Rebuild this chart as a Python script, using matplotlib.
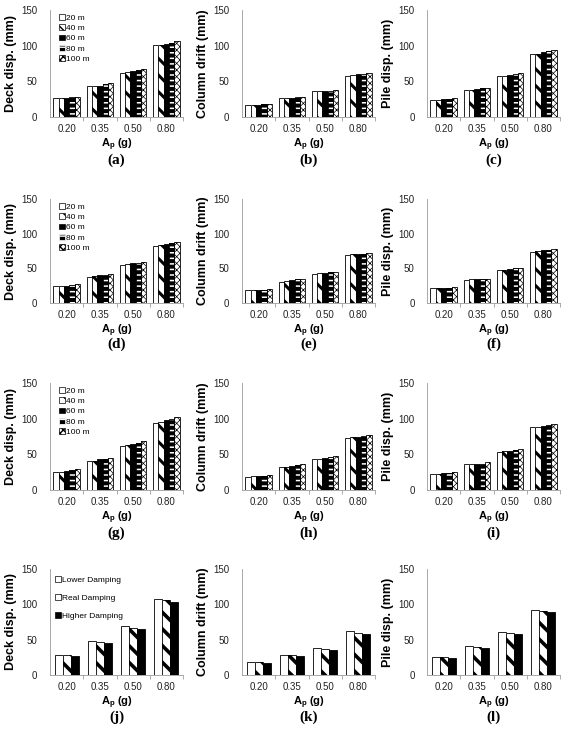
import numpy as np
import matplotlib
matplotlib.use("Agg")
import matplotlib.pyplot as plt
from matplotlib.patches import Patch

plt.rcParams['font.family'] = ['Liberation Sans', 'DejaVu Sans']
plt.rcParams['mathtext.fontset'] = 'custom'
plt.rcParams['mathtext.bf'] = 'Liberation Sans:bold'
plt.rcParams['mathtext.rm'] = 'Liberation Sans'

# ===== data =====
pga = ['0.20', '0.35', '0.50', '0.80']
lengths = ['20 m', '40 m', '60 m', '80 m', '100 m']
damping = ['Lower Damping', 'Real Damping', 'Higher Damping']

# rows = PGA, columns = series
deck_a = [[27, 27, 27, 28, 28], [43, 44, 44, 46, 47], [62, 63, 64, 66, 67], [101, 101, 102, 104, 106]]
col_b = [[17, 17, 17, 18, 18], [27, 27, 27, 28, 28], [36, 36, 37, 37, 38], [58, 59, 60, 60, 61]]
pile_c = [[24, 24, 25, 25, 26], [38, 38, 39, 40, 41], [58, 58, 59, 60, 61], [89, 89, 91, 92, 94]]

deck_d = [[24, 24, 25, 26, 27], [38, 39, 40, 41, 42], [55, 56, 57, 58, 59], [82, 83, 85, 87, 88]]
col_e = [[19, 19, 19, 19, 20], [31, 32, 33, 34, 35], [42, 43, 43, 44, 45], [69, 70, 70, 71, 72]]
pile_f = [[21, 22, 22, 22, 23], [33, 34, 34, 34, 35], [48, 48, 49, 50, 51], [74, 75, 76, 77, 78]]

deck_g = [[25, 25, 27, 28, 29], [41, 41, 43, 44, 45], [61, 63, 64, 66, 68], [94, 96, 98, 100, 102]]
col_h = [[18, 19, 19, 20, 21], [32, 32, 34, 35, 36], [43, 44, 45, 46, 48], [73, 74, 75, 76, 77]]
pile_i = [[23, 23, 24, 24, 25], [36, 36, 37, 37, 39], [53, 54, 55, 56, 57], [88, 89, 90, 91, 92]]

deck_j = [[29, 28, 27], [48, 47, 45], [69, 67, 65], [108, 106, 103]]
col_k = [[19, 18, 17], [29, 28, 27], [38, 37, 36], [62, 60, 58]]
pile_l = [[26, 25, 24], [41, 40, 38], [61, 59, 58], [92, 91, 89]]

# ===== styles =====
# (face, hatch, hatch colour, hatch lw)
len_styles = [
    ('white', None, 'black', 1.0),
    ('white', '\\\\', 'black', 2.2),
    ('black', None, 'black', 1.0),
    ('black', '---', 'white', 1.1),
    ('white', 'xxxxx', 'black', 0.5),
]
damp_styles = [
    ('white', None, 'black', 1.0),
    ('white', '\\\\', 'black', 2.6),
    ('black', None, 'black', 1.0),
]

W, H = 565, 730
fig = plt.figure(figsize=(W / 100, H / 100), dpi=100)

col_left = [50, 242, 427]
axw = 133
rows_px = [(10, 117), (199, 303), (383, 490), (569, 675)]
ylabels = ['Deck disp. (mm)', 'Column drift (mm)', 'Pile disp. (mm)']
letters = 'abcdefghijkl'

panels = [deck_a, col_b, pile_c, deck_d, col_e, pile_f,
          deck_g, col_h, pile_i, deck_j, col_k, pile_l]


def set_hlw(p, lw):
    if hasattr(p, 'set_hatch_linewidth'):
        p.set_hatch_linewidth(lw)


def draw_bar(ax, x, h, w, st):
    face, hatch, hcol, hlw = st
    with plt.rc_context({'hatch.linewidth': hlw}):
        b = ax.bar(x, h, w, color=face, edgecolor=hcol if hatch else 'black',
                   hatch=hatch, linewidth=0.0 if hatch else 0.6, zorder=2)
    for p in b:
        set_hlw(p, hlw)
    if hatch:
        ax.bar(x, h, w, fill=False, edgecolor='black', linewidth=0.6, zorder=3)


def legend_patch(st, lab):
    face, hatch, hcol, hlw = st
    lw = min(hlw, 1.0)
    with plt.rc_context({'hatch.linewidth': lw}):
        p = Patch(facecolor=face, edgecolor='black' if face == 'white' else hcol,
                  hatch=hatch, linewidth=0.5, label=lab)
    set_hlw(p, lw)
    return p


for k, data in enumerate(panels):
    r, c = divmod(k, 3)
    top, bot = rows_px[r]
    ax = fig.add_axes([col_left[c] / W, 1 - bot / H, axw / W, (bot - top) / H])
    vals = np.array(data, dtype=float).T
    nser = vals.shape[0]
    styles = len_styles if nser == 5 else damp_styles
    bw = 0.16 if nser == 5 else 0.24
    x = np.arange(len(pga))
    for s in range(nser):
        xs = x + (s - (nser - 1) / 2) * bw
        draw_bar(ax, xs, vals[s], bw, styles[s])

    ax.set_xlim(-0.5, len(pga) - 0.5)
    ax.set_ylim(0, 150)
    ax.set_yticks([0, 50, 100, 150])
    ax.set_xticks(x)
    ax.set_xticklabels(pga)
    ax.set_xticks([0.5, 1.5, 2.5, 3.5], minor=True)
    ax.tick_params(axis='y', length=0, labelsize=7, pad=9, labelcolor='#222222')
    ax.tick_params(axis='x', which='major', length=0, labelsize=7, pad=5, labelcolor='#222222')
    ax.tick_params(axis='x', which='minor', length=3, width=0.5, color='#888888', direction='out')
    for sp in ['top', 'right']:
        ax.spines[sp].set_visible(False)
    ax.spines['left'].set_color('#9a9a9a')
    ax.spines['left'].set_linewidth(0.6)
    ax.spines['bottom'].set_color('#9a9a9a')
    ax.spines['bottom'].set_linewidth(0.6)

    ax.set_ylabel(ylabels[c], fontsize=9, fontweight='bold', labelpad=3)
    ax.set_xlabel(r'A$_\mathbf{p}$ (g)', fontsize=8, fontweight='bold', labelpad=2)
    ax.text(0.5, -0.40, '(%s)' % letters[k], transform=ax.transAxes,
            ha='center', va='center', fontsize=11, fontweight='bold',
            family=['Liberation Serif', 'DejaVu Serif'])

    if c == 0 and nser == 5:
        handles = [legend_patch(st, lab) for st, lab in zip(styles, lengths)]
        ax.legend(handles=handles, loc='upper left', bbox_to_anchor=(0.03, 1.01),
                  frameon=False, fontsize=6, handlelength=0.7, handleheight=0.7,
                  handletextpad=0.2, labelspacing=0.3, borderaxespad=0.2)
    elif c == 0:
        handles = [legend_patch(st, lab) for st, lab in zip(styles, damping)]
        ax.legend(handles=handles, loc='upper left', bbox_to_anchor=(0.0, 0.98),
                  frameon=False, fontsize=6, handlelength=0.7, handleheight=0.7,
                  handletextpad=0.2, labelspacing=1.2, borderaxespad=0.2)

fig.savefig('out.png', dpi=100)
